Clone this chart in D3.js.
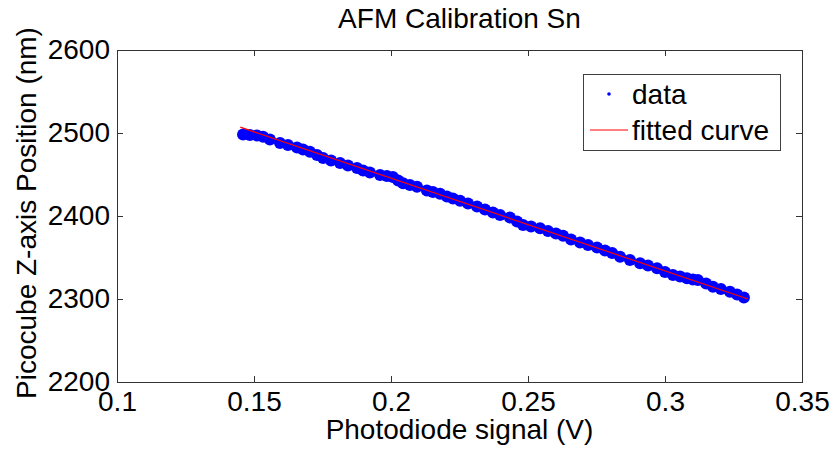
<!DOCTYPE html>
<html>
<head>
<meta charset="utf-8">
<script src="https://cdn.jsdelivr.net/npm/d3@7"></script>
<style>
  body { margin: 0; background: #fff; }
  svg text { font-family: "Liberation Sans", Arial, sans-serif; fill: #000; }
</style>
</head>
<body>
<div id="chart"></div>
<script>
// photodiode signal (V) and picocube Z position (nm)
const voltage = [0.1460, 0.1485, 0.1511, 0.1533, 0.1558, 0.1595, 0.1624, 0.1657, 0.1679, 0.1704,
  0.1730, 0.1752, 0.1781, 0.1814, 0.1843, 0.1876, 0.1898, 0.1923, 0.1960, 0.1985,
  0.2007, 0.2026, 0.2044, 0.2069, 0.2095, 0.2131, 0.2153, 0.2179, 0.2204, 0.2226,
  0.2252, 0.2281, 0.2314, 0.2343, 0.2372, 0.2398, 0.2434, 0.2460, 0.2482, 0.2511,
  0.2544, 0.2573, 0.2602, 0.2628, 0.2657, 0.2690, 0.2719, 0.2752, 0.2781, 0.2807,
  0.2836, 0.2872, 0.2909, 0.2938, 0.2971, 0.3000, 0.3029, 0.3055, 0.3080, 0.3102,
  0.3120, 0.3150, 0.3175, 0.3204, 0.3237, 0.3263, 0.3288]
const position = [2498.2, 2497.6, 2497.0, 2495.5, 2492.2, 2488.0, 2485.5, 2482.5, 2480.1, 2477.5,
  2473.5, 2469.9, 2466.9, 2463.9, 2460.8, 2457.8, 2454.8, 2452.4, 2449.4, 2448.2,
  2447.0, 2442.8, 2439.4, 2437.3, 2435.3, 2430.7, 2428.9, 2426.7, 2423.5, 2421.1,
  2418.3, 2415.1, 2411.4, 2407.8, 2404.2, 2401.2, 2398.2, 2393.4, 2389.2, 2387.3,
  2385.2, 2381.9, 2378.9, 2376.3, 2371.7, 2368.1, 2365.1, 2362.0, 2358.4, 2355.4,
  2351.0, 2347.0, 2343.0, 2340.4, 2337.0, 2332.5, 2328.9, 2327.1, 2324.9, 2323.5,
  2322.9, 2318.7, 2314.8, 2312.0, 2308.8, 2305.4, 2301.8]

// fitted line end points
const fitVoltage = [0.145, 0.3303]
const fitPosition = [2507, 2300]

const xTicks = [0.1, 0.15, 0.2, 0.25, 0.3, 0.35]
const yTicks = [2200, 2300, 2400, 2500, 2600]

const chart_width = 834
const chart_height = 450
const pad_left = 117, pad_right = 802, pad_top = 50, pad_bottom = 382
const font_size = 28

const svg = d3.select("#chart")
  .append("svg")
  .attr("width", chart_width)
  .attr("height", chart_height)

const x_scale = d3.scaleLinear()
  .domain([0.1, 0.35])
  .range([pad_left, pad_right])

const y_scale = d3.scaleLinear()
  .domain([2200, 2600])
  .range([pad_bottom, pad_top])

// data points
svg.append("g")
  .selectAll("circle")
  .data(voltage)
  .join("circle")
  .attr("cx", d => x_scale(d))
  .attr("cy", (d, i) => y_scale(position[i]))
  .attr("r", 6)
  .attr("fill", "#0000ff")

// fitted curve
const line = d3.line()
  .x(d => x_scale(d[0]))
  .y(d => y_scale(d[1]))

svg.append("path")
  .datum(fitVoltage.map((v, i) => [v, fitPosition[i]]))
  .attr("d", line)
  .attr("fill", "none")
  .attr("stroke", "#ff0000")
  .attr("stroke-width", 1.2)

// axes, ticks pointing inwards
const fmt = d => String(d)

const x_axis = svg.append("g")
  .attr("transform", `translate(0,${pad_bottom})`)
  .call(d3.axisBottom(x_scale).tickValues(xTicks).tickFormat(fmt).tickSize(-6).tickPadding(9))
x_axis.select(".domain").remove()

const y_axis = svg.append("g")
  .attr("transform", `translate(${pad_left},0)`)
  .call(d3.axisLeft(y_scale).tickValues(yTicks).tickFormat(fmt).tickSize(-6).tickPadding(7))
y_axis.select(".domain").remove()

const x_top = svg.append("g")
  .attr("transform", `translate(0,${pad_top})`)
  .call(d3.axisTop(x_scale).tickValues(xTicks).tickFormat("").tickSize(-6))
x_top.select(".domain").remove()

const y_right = svg.append("g")
  .attr("transform", `translate(${pad_right},0)`)
  .call(d3.axisRight(y_scale).tickValues(yTicks).tickFormat("").tickSize(-6))
y_right.select(".domain").remove()

svg.selectAll(".tick line").attr("stroke", "#333")
svg.selectAll(".tick text")
  .attr("font-size", font_size)
  .attr("font-family", "Liberation Sans, Arial, sans-serif")
  .attr("fill", "#000")

svg.append("rect")
  .attr("x", pad_left + 0.5)
  .attr("y", pad_top + 0.5)
  .attr("width", pad_right - pad_left)
  .attr("height", pad_bottom - pad_top)
  .attr("fill", "none")
  .attr("stroke", "#333")
  .attr("stroke-width", 1)

// titles
svg.append("text")
  .attr("x", (pad_left + pad_right) / 2)
  .attr("y", 28)
  .attr("text-anchor", "middle")
  .attr("font-size", font_size)
  .text("AFM Calibration Sn")

svg.append("text")
  .attr("x", (pad_left + pad_right) / 2)
  .attr("y", 439)
  .attr("text-anchor", "middle")
  .attr("font-size", font_size)
  .text("Photodiode signal (V)")

svg.append("text")
  .attr("transform", "translate(36,213) rotate(-90)")
  .attr("text-anchor", "middle")
  .attr("font-size", font_size)
  .text("Picocube Z-axis Position (nm)")

// legend
const legend = svg.append("g")
legend.append("rect")
  .attr("x", 583.5)
  .attr("y", 74.5)
  .attr("width", 197)
  .attr("height", 76)
  .attr("fill", "#fff")
  .attr("stroke", "#404040")
legend.append("circle")
  .attr("cx", 609)
  .attr("cy", 94)
  .attr("r", 1.8)
  .attr("fill", "#0000ff")
legend.append("line")
  .attr("x1", 590)
  .attr("x2", 628)
  .attr("y1", 130)
  .attr("y2", 130)
  .attr("stroke", "#ff0000")
legend.append("text")
  .attr("x", 632)
  .attr("y", 104)
  .attr("font-size", font_size)
  .text("data")
legend.append("text")
  .attr("x", 632)
  .attr("y", 140)
  .attr("font-size", font_size)
  .text("fitted curve")
</script>
</body>
</html>
